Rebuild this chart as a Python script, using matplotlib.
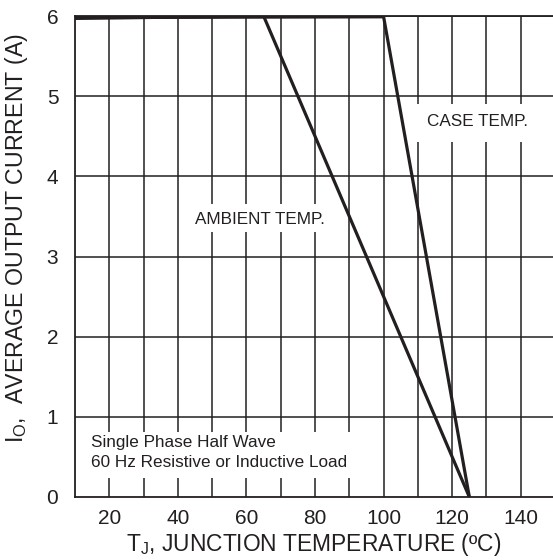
import matplotlib.pyplot as plt
from matplotlib.patches import Rectangle

plt.rcParams['font.family'] = ['Liberation Sans', 'DejaVu Sans']
plt.rcParams['mathtext.fontset'] = 'custom'
plt.rcParams['mathtext.rm'] = 'Liberation Sans'

# derating curves (junction temp in C, average output current in A)
ambient_temp = [10, 65, 125]
ambient_current = [5.97, 6.0, 0.0]
case_temp = [10, 100, 125]
case_current = [5.98, 5.99, 0.0]

x_ticks = [20, 40, 60, 80, 100, 120, 140]
y_ticks = [0, 1, 2, 3, 4, 5, 6]

ink = '#231f20'

fig = plt.figure(figsize=(5.53, 5.6), dpi=100)
ax = fig.add_axes([75 / 553, 1 - 497 / 560, 1 - 75 / 553, (497 - 16) / 560])

ax.set_xlim(10, 149.4)
ax.set_ylim(0, 6)

# grid every 10 C / 1 A
for gx in range(20, 150, 10):
    ax.axvline(gx, color=ink, lw=1.1, zorder=1)
for gy in y_ticks[1:]:
    ax.axhline(gy, color=ink, lw=1.1, zorder=1)

# white boxes behind the labels
ax.add_patch(Rectangle((40.6, 3.3), 48.7, 0.35, facecolor='white', edgecolor='none', zorder=2))
ax.add_patch(Rectangle((109.7, 4.43), 36, 0.47, facecolor='white', edgecolor='none', zorder=2))
ax.add_patch(Rectangle((10.2, 0.24), 80.8, 0.57, facecolor='white', edgecolor='none', zorder=2))

ax.plot(ambient_temp, ambient_current, color=ink, lw=2.3, zorder=3, solid_joinstyle='miter')
ax.plot(case_temp, case_current, color=ink, lw=2.3, zorder=3, solid_joinstyle='miter')

fs = 12.3
ax.text(63.8, 3.46, 'AMBIENT TEMP.', fontsize=fs, color=ink, ha='center', va='center', zorder=4)
ax.text(127.3, 4.69, 'CASE TEMP.', fontsize=fs, color=ink, ha='center', va='center', zorder=4)
ax.text(14.7, 0.675, 'Single Phase Half Wave', fontsize=fs, color=ink, ha='left', va='center', zorder=4)
ax.text(14.7, 0.425, '60 Hz Resistive or Inductive Load', fontsize=fs, color=ink, ha='left', va='center', zorder=4)

ax.set_xticks(x_ticks)
ax.set_yticks(y_ticks)
ax.tick_params(length=0, labelsize=15, colors=ink)
ax.tick_params(axis='x', pad=9)
ax.tick_params(axis='y', pad=12)

ax.spines['right'].set_visible(False)
for side in ['left', 'bottom', 'top']:
    ax.spines[side].set_color(ink)
    ax.spines[side].set_linewidth(1.3)

ax.set_xlabel('T$_\\mathregular{J}$, JUNCTION TEMPERATURE (ºC)', fontsize=16.4, color=ink, labelpad=2)
ax.set_ylabel('I$_\\mathregular{O}$,  AVERAGE OUTPUT CURRENT (A)', fontsize=16.7, color=ink)
ax.yaxis.set_label_coords(-0.094, 0.538)

fig.savefig('out.png', dpi=100)
